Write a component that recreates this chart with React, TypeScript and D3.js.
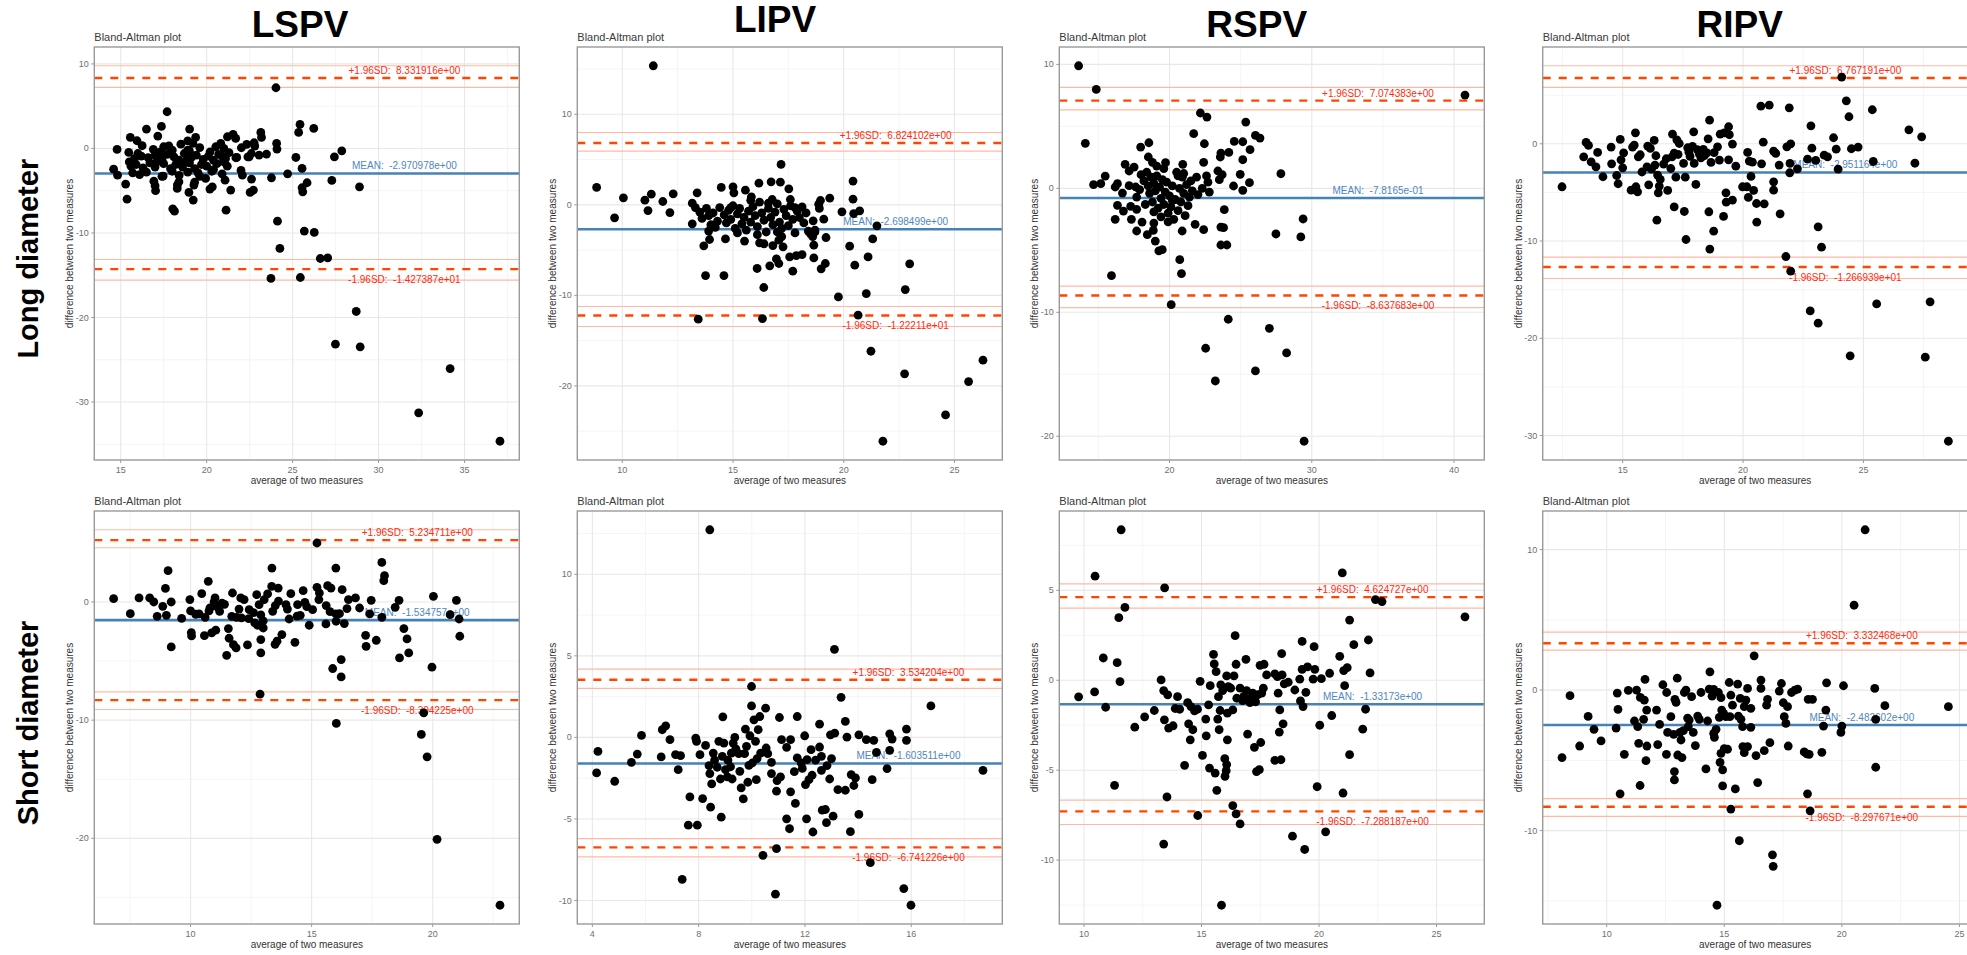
import React from 'react';
import * as d3 from 'd3';

// column / row headers
const columns = ['LSPV', 'LIPV', 'RSPV', 'RIPV'];
const rows = ['Long diameter', 'Short diameter'];

// [average of two measures, difference between two measures]
const lspvLong = [
  [14.59,-2.45],[14.79,-0.12],[14.82,-3.16],[15.29,-4.22],[15.37,-6.0],[15.47,-0.47],[15.56,1.3],[15.95,0.91],[16.25,0.32],[16.5,2.29],
  [16.93,-3.87],[17.03,-5.0],[17.16,1.46],[17.37,2.6],[17.47,-3.27],[17.7,4.34],[18.03,-7.14],[18.13,-7.42],[18.29,-4.73],[18.39,-3.94],
  [19.01,2.29],[18.97,-5.21],[19.22,-6.11],[19.26,-4.34],[19.36,1.3],[19.94,-3.55],[20.19,-4.81],[20.33,-4.54],[20.53,0.2],[20.82,0.59],
  [21.07,-3.75],[21.13,-7.3],[21.21,1.38],[21.4,-4.93],[21.54,1.66],[21.69,1.18],[21.75,-1.07],[22.02,0.08],[22.08,-3.16],[22.33,0.47],
  [22.47,-0.99],[22.53,-5.21],[22.61,-3.63],[22.72,-4.93],[22.76,0.67],[22.8,0.28],[23.05,-0.79],[23.15,1.89],[23.19,1.3],[23.48,-0.67],
  [23.77,-3.47],[24.03,7.18],[24.07,0.59],[24.09,-0.08],[24.12,-8.6],[23.74,-15.38],[24.26,-11.83],[24.71,-3.0],[25.19,-1.07],[25.35,1.89],
  [25.43,2.84],[25.45,-15.27],[25.55,-2.37],[25.55,-4.65],[25.59,-5.13],[25.68,-9.78],[25.84,-4.06],[26.23,2.37],[26.26,-9.94],[26.61,-13.02],
  [27.04,-12.94],[27.28,-3.79],[27.43,-0.99],[27.49,-23.16],[27.86,-0.28],[28.7,-19.29],[28.89,-4.54],[28.93,-23.47],[32.33,-31.28],[34.16,-26.04],
  [37.06,-34.64],
  [16.0,-0.6],[16.2,-0.9],[16.6,-1.1],[17.0,-0.8],[17.4,-1.3],[17.7,-0.7],[18.1,-1.0],[18.4,-1.4],[18.7,-0.6],[19.1,-1.1],
  [19.4,-0.8],[19.8,-1.3],[20.1,-0.9],[20.4,-1.4],[20.7,-0.7],[21.1,-1.2],[21.3,-0.5],[21.7,-1.1],[22.4,-1.0],[22.6,-0.6],
  [15.8,-1.2],[16.9,-0.1],[17.5,0.2],[17.8,0.3],[18.5,0.5],[18.9,0.9],[19.2,0.6],[19.6,0.1],[21.0,0.0],[18.0,-0.2],
  [19.0,-0.3],[20.2,-0.4],[17.3,-0.4],[18.9,-0.2],[20.9,-0.9],[15.6,-2.1],[15.9,-1.9],[16.3,-2.3],[16.7,-1.7],[17.0,-2.2],
  [17.5,-1.8],[17.9,-2.4],[18.2,-1.9],[18.6,-2.2],[19.0,-1.7],[19.3,-2.4],[19.7,-1.9],[20.0,-2.1],[20.4,-2.5],[20.6,-1.8],
  [21.0,-1.6],[21.2,-2.1],[17.1,-1.6],[18.8,-1.5],[15.5,-1.6],[15.7,-2.9],[16.1,-3.1],[16.5,-2.8],[17.4,-3.3],[18.0,-2.7],
  [18.4,-3.2],[18.9,-2.8],[19.5,-2.9],[20.3,-2.7],[20.9,-3.0],[22.0,-2.6],[18.3,-4.3],[19.3,-4.0],[17.0,-4.4],[19.6,-3.3],
];

const lipvLong = [
  [11.4,15.36],[8.84,1.92],[9.65,-1.44],[10.05,0.77],[11.02,0.52],[11.16,-0.63],[11.31,1.18],[11.83,0.37],[12.15,-0.85],[12.3,1.22],
  [13.16,0.18],[13.16,-2.1],[13.38,1.33],[13.43,-12.63],[13.68,-4.53],[13.76,-7.81],[13.94,-3.83],[14.47,1.92],[14.59,-7.81],[14.66,-3.76],
  [15.0,1.99],[15.04,1.33],[15.52,-4.0],[15.56,1.62],[15.83,0.88],[16.09,-7.03],[16.17,2.39],[16.33,-12.56],[16.39,-9.13],[16.66,-6.74],
  [16.72,2.54],[16.77,0.59],[16.96,-5.97],[17.07,-6.48],[17.07,-3.9],[17.14,2.5],[17.17,4.46],[17.26,-4.64],[17.52,1.77],[17.56,-5.75],
  [17.59,0.59],[17.7,-7.33],[17.86,-5.6],[18.12,-5.49],[18.12,-0.22],[18.62,-1.77],[18.65,-4.46],[18.65,-5.86],[18.98,-7.07],[18.87,0.07],
  [18.95,0.48],[19.1,-1.58],[19.17,-6.48],[19.2,-3.61],[19.37,0.74],[19.76,-10.17],[19.92,-0.77],[20.27,-4.57],[20.42,2.62],[20.42,0.63],
  [20.45,-0.96],[20.5,-6.67],[20.72,-0.66],[20.65,-12.19],[21.02,-9.8],[21.1,-5.75],[21.23,-16.17],[21.31,-3.76],[21.5,-2.32],[21.77,-26.11],
  [22.78,-9.36],[22.75,-18.67],[22.98,-6.52],[24.6,-23.2],[25.64,-19.52],[26.29,-17.16],
  [13.3,-0.3],[13.5,-0.8],[13.6,-1.5],[13.8,-0.4],[13.9,-1.2],[14.0,-2.2],[14.1,-0.9],[14.3,-1.8],[14.4,-0.3],[14.6,-1.1],
  [14.7,-2.0],[14.8,-0.6],[14.9,-1.6],[15.0,-0.1],[15.1,-2.6],[15.2,-1.0],[15.3,-0.4],[15.4,-2.1],[15.5,-1.4],[15.6,-2.8],
  [15.7,-0.7],[15.8,-1.9],[15.9,-0.2],[16.0,-1.2],[16.1,-2.4],[16.2,0.3],[16.3,-0.9],[16.4,-1.7],[16.5,-3.0],[16.6,-0.4],
  [16.7,-1.4],[16.8,-2.2],[16.9,-0.8],[17.0,0.1],[17.1,-1.9],[17.2,-2.6],[17.3,-0.5],[17.4,-1.2],[17.5,-2.3],[17.6,-0.1],
  [17.7,-1.6],[17.8,-3.1],[17.9,-0.7],[18.0,-1.4],[18.2,-2.0],[18.3,-0.9],[18.5,-3.2],[18.7,-2.8],[18.9,-0.4],[14.2,-2.5],
  [15.2,-3.1],[16.1,-3.3],[17.2,-3.5],[18.4,-2.9],[13.9,-2.9],[14.9,-0.3],[16.6,0.2],[15.8,0.5],[17.8,-0.3],[18.6,-3.5],
  [16.4,-4.3],[16.8,-4.5],[16.2,-4.2],[17.0,-3.0],[18.7,-3.0],
];

const rspvLong = [
  [13.61,9.89],[14.85,7.98],[14.08,3.63],[14.66,0.3],[15.17,0.38],[15.48,0.99],[15.92,-7.04],[16.18,0.11],[16.34,0.38],[16.34,-1.37],
  [16.18,-2.5],[16.69,-0.38],[16.76,-1.83],[16.88,1.94],[17.16,1.4],[17.16,0.22],[17.27,-1.45],[17.32,-2.5],[17.51,1.72],[17.62,0.11],
  [17.69,-0.7],[17.69,-1.69],[17.69,-3.44],[17.97,3.33],[18.07,-2.72],[18.44,-3.74],[18.51,2.53],[18.55,3.68],[18.86,-3.39],[18.9,-2.8],
  [19.0,-4.25],[19.25,-5.05],[19.49,-4.95],[19.72,2.07],[20.12,-9.38],[20.72,-5.75],[20.84,-6.88],[20.89,-3.44],[20.93,1.94],[21.7,4.41],
  [22.17,6.08],[22.63,5.75],[22.45,3.6],[22.4,2.1],[22.4,-3.33],[22.54,-12.9],[23.22,-15.54],[23.57,2.53],[23.61,2.85],[23.85,-1.72],
  [23.61,-3.12],[23.8,-3.17],[23.61,-4.57],[24.03,-4.57],[24.13,-10.56],[24.17,2.9],[24.55,3.79],[24.5,0.19],[24.97,1.13],[25.15,2.31],
  [25.15,3.76],[25.15,-0.16],[25.36,5.35],[25.62,0.46],[25.66,3.12],[26.04,-14.73],[26.04,4.27],[26.36,4.06],[27.02,-11.29],[27.48,-3.68],
  [27.83,1.18],[28.23,-13.28],[29.23,-3.92],[29.39,-2.47],[29.46,-20.4],[40.77,7.53],
  [18.0,1.1],[18.2,0.6],[18.4,1.3],[18.5,0.2],[18.6,-0.4],[18.7,0.9],[18.8,-1.1],[18.9,0.4],[19.0,-0.2],[19.1,1.0],
  [19.2,-1.6],[19.3,0.1],[19.4,-0.8],[19.5,0.7],[19.6,-1.3],[19.7,-0.3],[19.8,0.5],[19.9,-2.0],[20.0,-0.6],[20.1,-1.5],
  [20.2,0.2],[20.3,-2.5],[20.4,-0.9],[20.5,1.3],[20.6,-1.8],[20.7,0.0],[20.8,-1.1],[20.9,0.9],[21.0,-0.4],[21.1,-2.2],
  [21.2,0.3],[21.3,-1.4],[21.4,-0.7],[21.5,0.6],[21.6,-0.2],[21.8,-2.9],[21.9,0.9],[22.0,-0.5],[22.3,0.0],[22.6,1.0],
  [22.7,0.5],[22.8,-0.3],[23.4,1.4],[23.7,1.1],[23.5,0.7],[19.4,-2.3],[19.9,-2.7],[20.2,-1.0],[18.9,-1.9],[18.3,-1.3],
  [17.9,-0.1],[20.6,1.0],[21.0,1.2],[19.6,1.6],[18.8,2.1],[19.1,1.8],
];

const ripvLong = [
  [12.48,-4.42],[13.38,-1.34],[13.48,0.14],[13.58,-0.17],[13.69,-1.85],[13.89,-2.37],[13.96,-0.89],[14.18,-3.39],[14.52,-0.34],[14.54,-2.06],
  [14.75,-3.26],[14.81,-4.11],[14.9,0.45],[14.93,-1.65],[15.0,-2.47],[15.04,-0.93],[15.35,-4.77],[15.41,-0.34],[15.48,-0.14],[15.53,1.13],
  [15.55,-4.42],[15.62,-4.94],[15.65,-1.34],[15.73,-1.13],[16.01,-2.37],[16.04,-0.24],[16.08,-4.22],[16.15,-0.48],[16.31,0.34],[16.34,-2.19],
  [16.38,-1.23],[16.42,-7.85],[16.45,-3.22],[16.48,-5.04],[16.52,-4.35],[16.56,-3.67],[16.81,-1.54],[16.87,-4.8],[17.0,-2.54],[17.05,-1.34],
  [17.07,0.99],[17.14,-6.48],[17.14,-0.96],[17.21,-3.43],[17.25,0.41],[17.35,0.03],[17.53,-2.02],[17.56,-6.96],[17.6,-3.43],[17.63,-9.84],
  [17.7,-0.41],[17.75,-0.86],[17.9,-0.27],[17.95,1.23],[17.97,-2.02],[18.04,-4.18],[18.18,-1.03],[18.25,-1.44],[18.35,-0.58],[18.39,-1.23],
  [18.5,-0.93],[18.55,0.51],[18.58,-6.99],[18.61,2.43],[18.62,-10.83],[18.67,-1.92],[18.78,-8.98],[18.94,-0.31],[19.02,-1.68],[19.05,0.99],
  [19.19,-7.47],[19.22,1.13],[19.29,-5.04],[19.3,-6.0],[19.4,-1.65],[19.4,1.75],[19.43,0.93],[19.56,-0.03],[19.56,-5.79],[19.98,-4.42],
  [20.16,-4.42],[20.19,-0.89],[20.22,-5.52],[20.26,-1.78],[20.33,-3.36],[20.39,-1.89],[20.44,-4.8],[20.56,-6.14],[20.57,-8.06],[20.74,3.87],
  [20.77,-2.06],[20.84,0.17],[20.88,-6.17],[21.09,3.98],[21.27,-0.75],[21.27,-4.77],[21.27,-3.91],[21.36,-0.99],[21.5,-2.19],[21.54,-7.2],
  [21.78,-11.59],[21.82,-0.31],[21.92,3.7],[21.94,-2.98],[21.95,-2.02],[21.98,0.0],[21.98,-13.1],[22.26,-2.57],[22.68,-1.58],[22.79,-17.18],
  [22.82,1.85],[22.86,-0.45],[23.02,-1.71],[23.12,-8.54],[23.12,-18.44],[23.26,-10.63],[23.37,-1.17],[23.51,-1.34],[23.76,0.62],[23.87,-0.55],
  [23.95,-2.61],[24.1,6.86],[24.29,4.42],[24.4,2.78],[24.45,-21.8],[24.5,-0.51],[24.78,-0.34],[25.37,3.5],[25.41,-1.82],[25.55,-16.46],
  [26.89,1.44],[27.14,-2.0],[27.42,0.72],[27.57,-21.94],[27.77,-16.25],[28.53,-30.58],
  [16.2,-2.6],[17.3,-1.1],[18.1,-0.6],[18.8,-0.9],[16.7,-2.1],[15.8,-2.9],[17.8,-1.3],[19.7,-2.3],
];

const lspvShort = [
  [6.82,0.28],[7.51,-0.99],[7.87,0.34],[8.31,0.34],[8.48,0.0],[8.62,-1.21],[8.85,-0.37],[8.96,1.15],[9.0,-1.13],[9.07,2.65],
  [9.2,0.0],[9.2,-3.8],[9.63,-1.38],[9.97,0.2],[10.0,-0.76],[10.03,-2.59],[10.04,-2.87],[10.21,-1.04],[10.35,-1.01],[10.46,0.7],
  [10.57,-2.85],[10.73,1.75],[10.76,-0.76],[10.87,-2.62],[10.97,0.0],[11.01,0.34],[11.04,-2.39],[11.1,-0.42],[11.56,-2.25],[11.49,-4.51],
  [11.59,-3.07],[11.7,-1.21],[11.73,0.76],[11.77,-3.61],[11.88,-3.89],[12.07,0.34],[12.1,-1.35],[12.21,0.2],[12.35,-3.63],[12.42,-0.65],
  [12.65,-1.77],[12.73,0.62],[12.76,-1.97],[12.83,-0.23],[12.9,-3.18],[12.9,-4.31],[12.87,-7.8],[13.0,-2.2],[13.04,0.2],[13.18,0.68],
  [13.36,2.87],[13.35,1.32],[13.39,-0.79],[13.49,-3.58],[13.57,-3.32],[13.62,1.18],[13.63,0.08],[13.77,-2.76],[13.94,-0.23],[14.14,0.7],
  [14.07,-1.44],[14.31,-3.41],[14.42,-0.23],[14.65,0.96],[14.53,-1.13],[14.72,-0.03],[14.9,-1.97],[15.04,-0.65],[15.22,4.99],[15.22,1.24],
  [15.32,0.76],[15.59,-1.86],[15.66,1.38],[15.8,1.18],[15.76,-0.82],[15.87,-5.63],[16.0,2.87],[16.02,-10.28],[16.01,-1.63],[16.15,-0.99],
  [16.22,-4.87],[16.22,-6.34],[16.26,1.04],[16.35,-1.83],[16.46,-0.56],[16.52,0.2],[16.81,0.34],[16.98,-0.51],[17.23,-2.82],[17.25,-3.75],
  [17.46,0.14],[17.67,-3.24],[17.9,3.35],[18.01,2.23],[17.98,1.8],[18.45,-0.45],[18.61,0.14],[18.63,-4.73],[18.81,-2.25],[18.94,-3.13],
  [19.01,-4.31],[19.53,-11.21],[19.63,-9.38],[19.77,-13.1],[19.97,-5.52],[20.03,0.48],[20.18,-20.08],[20.72,-1.07],[20.98,0.14],[21.09,-1.44],
  [21.12,-2.9],[22.78,-25.66],
  [10.8,-0.5],[11.2,-0.8],[11.4,-0.2],[12.6,-0.9],[13.5,-0.3],[14.4,-1.2],[15.6,-0.3],[16.0,-1.0],[17.4,-1.0],[17.9,-1.3],
  [15.3,0.2],[12.4,-1.4],[13.0,-1.6],[11.9,-1.3],[11.3,-0.1],[12.0,-0.6],[14.0,-0.6],[14.8,-0.4],[10.6,-1.3],[12.9,-1.1],
];

const lipvShort = [
  [8.42,12.73],[13.11,5.4],[4.16,-2.18],[4.21,-0.86],[4.84,-2.69],[5.47,-1.53],[5.69,-1.02],[5.85,0.12],[6.59,-1.2],[6.63,0.47],
  [6.76,0.71],[6.92,-0.14],[7.13,-1.06],[7.23,-1.98],[7.32,-1.12],[7.38,-8.7],[7.67,-3.65],[7.61,-5.38],[7.89,-0.04],[7.95,-5.38],
  [7.92,-0.24],[8.05,-1.06],[8.15,-3.75],[8.26,-0.49],[8.39,-1.73],[8.42,-2.22],[8.45,-4.28],[8.49,-2.85],[8.55,-0.96],[8.7,-1.83],
  [8.76,-0.24],[8.82,-2.55],[8.85,-4.89],[8.91,1.26],[8.89,-1.16],[8.95,-0.35],[9.01,-1.98],[9.08,-2.42],[9.23,-0.96],[9.26,-2.55],
  [9.3,-0.35],[9.36,0.0],[9.51,-1.0],[9.55,-2.08],[9.6,-3.1],[9.68,-3.77],[9.73,-1.0],[9.76,0.51],[9.8,-0.55],[9.85,-2.75],
  [9.89,-1.71],[9.93,0.1],[9.99,3.12],[9.99,1.93],[10.02,-1.57],[10.08,1.08],[10.14,-0.24],[10.17,-2.59],[10.24,0.47],[10.3,1.28],
  [10.33,-0.96],[10.42,-7.23],[10.52,1.79],[10.54,-0.65],[10.74,-1.53],[10.74,-2.22],[10.93,-6.82],[10.89,-9.61],[10.93,-3.3],[10.95,-2.65],
  [11.04,1.22],[11.08,-2.42],[11.12,-0.14],[11.31,-0.61],[11.31,-4.99],[11.42,-5.6],[11.46,-0.14],[11.46,-3.34],[11.64,-4.05],[11.71,1.28],
  [11.71,-1.26],[11.86,-1.57],[11.99,0.1],[12.02,-2.89],[12.06,-4.99],[12.08,-1.36],[12.15,-2.59],[12.23,-0.75],[12.27,-2.32],[12.3,-5.8],
  [12.55,0.81],[12.55,-0.59],[12.62,-1.16],[12.65,-4.46],[12.62,-2.02],[12.77,-4.42],[12.81,-5.23],[12.83,-1.73],[12.93,-2.55],[12.96,0.16],
  [13.06,-4.83],[13.12,0.26],[13.24,-3.2],[13.36,2.46],[13.52,0.98],[13.52,-3.24],[13.58,0.02],[13.71,-5.78],[13.74,-2.28],[13.84,-2.95],
  [13.9,-2.48],[14.03,0.16],[14.03,-4.72],[14.31,-0.14],[14.46,-7.68],[14.53,-2.59],[14.59,-0.18],[14.69,-0.92],[15.09,-1.91],[15.19,-0.79],
  [15.19,0.22],[15.28,-0.1],[15.72,-9.27],[15.82,0.51],[15.82,-0.18],[15.99,-10.29],[16.74,1.93],[18.7,-2.02],
  [9.1,-1.4],[9.4,-0.7],[8.6,-1.4],[10.6,-1.0],[11.9,-1.9],[12.4,-1.4],[13.0,-1.3],[9.2,-1.8],[10.2,-1.3],[11.6,-2.1],
];

const rspvShort = [
  [11.58,8.37],[10.47,5.79],[13.43,5.14],[11.74,4.05],[11.48,3.48],[10.82,1.24],[11.41,0.98],[11.53,-0.07],[9.77,-0.92],[10.45,-0.65],
  [10.92,-1.5],[11.3,-5.84],[12.16,-2.61],[12.58,-2.03],[12.99,-1.68],[13.28,0.02],[13.39,-0.57],[13.42,-2.2],[13.53,-6.49],[13.39,-9.11],
  [13.56,-0.81],[13.6,-2.66],[13.79,-2.53],[13.98,-0.91],[13.88,-1.57],[14.07,-1.61],[14.28,-4.73],[14.41,-1.24],[14.45,-2.42],[14.52,-3.31],
  [14.55,-1.46],[14.63,-2.75],[14.7,-1.7],[14.83,-1.61],[14.84,-7.52],[14.94,-0.06],[15.04,-4.18],[15.18,-2.16],[15.2,-3.09],[15.3,-1.37],
  [15.37,-0.3],[15.34,-4.88],[15.51,1.44],[15.54,0.91],[15.58,-5.16],[15.62,0.48],[15.65,-6.12],[15.69,-2.16],[15.72,-0.91],[15.75,-2.75],
  [15.79,-1.68],[15.82,-0.26],[15.85,-12.51],[15.9,-0.57],[15.99,-4.36],[16.05,-5.03],[16.07,-4.69],[16.0,-5.34],[16.07,0.24],[16.1,-1.83],
  [16.14,-0.35],[16.1,-3.31],[16.24,-0.44],[16.33,-1.65],[16.33,-6.97],[16.38,0.24],[16.43,2.48],[16.47,0.89],[16.47,-7.43],[16.64,-7.99],
  [16.64,-0.44],[16.75,-1.13],[16.89,1.16],[16.92,-0.57],[16.96,-2.99],[17.06,-1.24],[17.18,-0.72],[17.25,-3.73],[17.34,-5.08],[17.46,-4.97],
  [17.49,0.83],[17.52,-3.46],[17.56,-0.72],[17.66,0.89],[17.63,-0.44],[17.77,0.3],[18.12,-4.45],[18.12,0.35],[18.23,0.2],[18.26,-0.72],
  [18.31,-2.88],[18.33,-1.65],[18.38,-4.42],[18.41,1.48],[18.43,0.3],[18.47,-2.42],[18.52,-0.2],[18.69,-0.11],[18.87,-8.67],[18.97,-0.54],
  [19.18,0.06],[19.21,-1.15],[19.28,0.61],[19.28,2.16],[19.32,-1.46],[19.39,-9.41],[19.44,-0.67],[19.51,0.74],[19.79,1.87],[19.82,0.61],
  [19.75,0.06],[19.92,-5.92],[20.03,-2.5],[20.1,0.09],[20.28,-8.43],[20.45,0.39],[20.54,-1.96],[20.88,1.33],[20.99,5.97],[21.05,0.54],
  [21.09,-0.3],[21.02,-6.27],[21.2,0.7],[21.3,3.35],[21.3,-4.14],[21.48,1.98],[21.86,-2.72],[21.98,-1.61],[22.1,2.24],[22.17,0.41],
  [22.4,4.49],[22.68,4.38],[26.21,3.53],
  [16.8,-0.9],[17.1,-1.0],[17.4,-0.8],[16.5,-1.0],[17.3,-1.2],
];

const ripvShort = [
  [8.1,-4.8],[8.44,-0.4],[8.85,-3.98],[9.21,-1.87],[9.46,-2.79],[9.76,-3.62],[10.4,-2.7],[10.45,-0.21],[10.48,-1.37],[10.57,-7.38],
  [10.75,-4.57],[10.92,-0.02],[11.18,-2.2],[11.27,0.0],[11.32,-2.6],[11.36,-3.79],[11.42,-6.79],[11.43,-0.52],[11.57,-2.08],[11.6,-0.71],
  [11.63,0.76],[11.67,-5.02],[11.7,-1.42],[11.71,-3.98],[12.12,-1.42],[12.17,-3.88],[12.25,-2.44],[12.39,0.38],[12.54,-4.57],[12.55,-0.17],
  [12.59,-3.01],[12.73,-1.89],[12.85,-3.15],[12.88,-5.8],[12.88,-6.39],[12.9,-0.66],[12.95,-0.88],[13.0,0.85],[13.02,-4.62],[13.12,-3.01],
  [13.16,-3.55],[13.2,-4.8],[13.26,-2.89],[13.3,-0.17],[13.37,0.0],[13.44,-1.99],[13.47,-2.6],[13.51,-2.13],[13.61,-0.47],[13.68,-3.01],
  [13.77,-3.95],[13.87,-1.85],[13.94,-2.08],[14.01,-0.17],[14.22,-5.61],[14.29,-2.2],[14.39,1.3],[14.36,0.07],[14.48,-0.43],[14.55,0.05],
  [14.55,-3.08],[14.58,-3.36],[14.65,-2.79],[14.69,-15.31],[14.75,-0.17],[14.79,-1.94],[14.82,-5.14],[14.86,-0.54],[14.86,-4.5],[14.89,-1.42],
  [14.93,-6.82],[14.93,-5.68],[14.97,-1.66],[15.0,-4.17],[15.07,-1.89],[15.14,-4.21],[15.21,0.54],[15.24,-1.89],[15.28,-0.36],[15.28,-8.47],
  [15.35,-1.07],[15.47,-7.03],[15.57,0.43],[15.6,-1.85],[15.64,-10.72],[15.68,-0.59],[15.71,-2.08],[15.78,-2.6],[15.79,-4.02],[15.85,-4.45],
  [15.85,-1.18],[15.92,-0.71],[15.99,0.12],[15.99,-4.02],[16.13,-2.65],[16.13,-1.3],[16.27,2.44],[16.35,-4.66],[16.42,-6.58],[16.56,0.71],
  [16.56,0.12],[16.7,-4.31],[16.8,-1.07],[16.84,-0.66],[16.94,-3.74],[17.05,-11.72],[17.08,-12.54],[17.34,-0.07],[17.43,0.47],[17.51,-0.9],
  [17.55,-1.89],[17.62,-2.37],[17.69,-1.18],[17.72,-3.98],[17.86,-0.17],[18.0,0.0],[18.12,0.07],[18.4,-4.4],[18.51,-4.54],[18.54,-7.38],
  [18.57,-0.66],[18.61,-4.57],[18.65,-8.59],[18.75,-0.66],[19.15,-4.43],[19.22,-2.56],[19.32,-1.42],[19.35,0.52],[19.96,-3.01],[20.0,-2.56],
  [20.07,0.31],[20.52,6.04],[20.99,11.41],[21.4,0.12],[21.44,-2.08],[21.44,-5.49],[21.83,-1.11],[24.53,-1.18],
];

// agreement statistics: mean bias, limits of agreement and their confidence bands
const meanBias = [-2.970978, -2.698499, -0.78165, -2.951164, -1.534757, -1.603511, -1.33173, -2.482602];
const upperLoA = [8.331916, 6.824102, 7.074383, 6.767191, 5.234711, 3.534204, 4.624727, 3.332468];
const lowerLoA = [-14.27387, -12.2211, -8.637683, -12.66939, -8.304225, -6.741226, -7.288187, -8.297671];
const upperCI = [[7.22, 9.78], [5.93, 7.99], [6.34, 8.15], [5.79, 8.02], [4.59, 6.11], [3.01, 4.18], [4.01, 5.36], [2.84, 4.12]];
const lowerCI = [[-15.59, -13.14], [-13.44, -11.23], [-9.62, -7.88], [-13.85, -11.66], [-9.10, -7.61], [-7.33, -6.21], [-8.02, -6.67], [-8.99, -7.72]];

// tick labels
const xTicks = [
  [15, 20, 25, 30, 35], [10, 15, 20, 25], [20, 30, 40], [15, 20, 25],
  [10, 15, 20], [4, 8, 12, 16], [10, 15, 20, 25], [10, 15, 20, 25],
];
const yTicks = [
  [-30, -20, -10, 0, 10], [-20, -10, 0, 10], [-20, -10, 0, 10], [-30, -20, -10, 0, 10],
  [-20, -10, 0], [-10, -5, 0, 5, 10], [-10, -5, 0, 5], [-10, 0, 10],
];

const pointSets = [lspvLong, lipvLong, rspvLong, ripvLong, lspvShort, lipvShort, rspvShort, ripvShort];

const FONT = 'Liberation Sans, Arial, Helvetica, sans-serif';
const W = 1967;
const H = 955;
const colLeft = [94.3, 577.3, 1059.3, 1542.7];
const rowTop = [47, 511];
const boxW = 425;
const boxH = 413;

// R-style scientific format, e.g. -7.8165e-01
function sci(v: number) {
  const [m0, e0] = v.toExponential(6).split('e');
  let m = m0;
  if (m.includes('.')) m = m.replace(/0+$/, '').replace(/\.$/, '');
  const sign = e0[0];
  let d = e0.slice(1);
  if (d.length < 2) d = '0' + d;
  return `${m}e${sign}${d}`;
}

function minorTicks(ticks: number[], lo: number, hi: number) {
  const step = ticks[1] - ticks[0];
  const out: number[] = [];
  for (let v = ticks[0] - step * 10 - step / 2; v <= hi; v += step) {
    if (v >= lo) out.push(v);
  }
  return out;
}

function majorGrid(ticks: number[], lo: number, hi: number) {
  const step = ticks[1] - ticks[0];
  const out: number[] = [];
  for (let v = ticks[0] - step * 10; v <= hi; v += step) {
    if (v >= lo) out.push(v);
  }
  return out;
}

function Panel({ i }: { i: number }) {
  const pts = pointSets[i];
  const left = colLeft[i % 4];
  const top = rowTop[Math.floor(i / 4)];

  const [xmin, xmax] = d3.extent(pts, (d) => d[0]) as [number, number];
  const yVals = pts.map((d) => d[1]).concat([upperCI[i][1], lowerCI[i][0]]);
  const [ymin, ymax] = d3.extent(yVals) as [number, number];
  const xp = (xmax - xmin) * 0.05;
  const yp = (ymax - ymin) * 0.05;

  const x = d3.scaleLinear().domain([xmin - xp, xmax + xp]).range([0, boxW]);
  const y = d3.scaleLinear().domain([ymin - yp, ymax + yp]).range([boxH, 0]);
  const [xlo, xhi] = x.domain();
  const [ylo, yhi] = y.domain();

  const xt = xTicks[i].filter((t) => t >= xlo && t <= xhi);
  const yt = yTicks[i].filter((t) => t >= ylo && t <= yhi);
  const labelX = x(0.85 * xmax);

  const hline = (v: number, stroke: string, sw: number, dash?: string, key?: string) => (
    <line key={key} x1={0} x2={boxW} y1={y(v)} y2={y(v)} stroke={stroke} strokeWidth={sw} strokeDasharray={dash} />
  );

  return (
    <g transform={`translate(${left},${top})`} fontFamily={FONT}>
      <text x={0} y={-6.5} fontSize={11} fill="#3a3a3a">Bland-Altman plot</text>
      <rect x={0} y={0} width={boxW} height={boxH} fill="#fff" />
      {minorTicks(xTicks[i], xlo, xhi).map((v) => (
        <line key={'xm' + v} x1={x(v)} x2={x(v)} y1={0} y2={boxH} stroke="#f2f2f2" strokeWidth={0.8} />
      ))}
      {minorTicks(yTicks[i], ylo, yhi).map((v) => (
        <line key={'ym' + v} x1={0} x2={boxW} y1={y(v)} y2={y(v)} stroke="#f2f2f2" strokeWidth={0.8} />
      ))}
      {majorGrid(xTicks[i], xlo, xhi).map((v) => (
        <line key={'xg' + v} x1={x(v)} x2={x(v)} y1={0} y2={boxH} stroke="#e8e8e8" strokeWidth={1.1} />
      ))}
      {majorGrid(yTicks[i], ylo, yhi).map((v) => (
        <line key={'yg' + v} x1={0} x2={boxW} y1={y(v)} y2={y(v)} stroke="#e8e8e8" strokeWidth={1.1} />
      ))}

      {hline(upperCI[i][0], '#ffb8a3', 1.2, undefined, 'uc0')}
      {hline(upperCI[i][1], '#ffb8a3', 1.2, undefined, 'uc1')}
      {hline(lowerCI[i][0], '#ffb8a3', 1.2, undefined, 'lc0')}
      {hline(lowerCI[i][1], '#ffb8a3', 1.2, undefined, 'lc1')}
      {hline(upperLoA[i], '#ff4500', 2.4, '8,8', 'up')}
      {hline(lowerLoA[i], '#ff4500', 2.4, '8,8', 'lo')}
      {hline(meanBias[i], '#4682b4', 2.6, undefined, 'mean')}

      <g fontSize={10} textAnchor="middle">
        <text x={labelX} y={y(upperLoA[i]) - 3.8} fill="#ff2a10" xmlSpace="preserve">{`+1.96SD:  ${sci(upperLoA[i])}`}</text>
        <text x={labelX} y={y(meanBias[i]) - 4.4} fill="#4f86c0" xmlSpace="preserve">{`MEAN:  ${sci(meanBias[i])}`}</text>
        <text x={labelX} y={y(lowerLoA[i]) + 13.9} fill="#ff2a10" xmlSpace="preserve">{`-1.96SD:  ${sci(lowerLoA[i])}`}</text>
      </g>

      {pts.map((d, k) => (
        <circle key={k} cx={x(d[0])} cy={y(d[1])} r={4.4} fill="#000" />
      ))}

      <rect x={0} y={0} width={boxW} height={boxH} fill="none" stroke="#9a9a9a" strokeWidth={1.4} />

      {xt.map((v) => (
        <g key={'xt' + v} transform={`translate(${x(v)},${boxH})`}>
          <line y1={0} y2={3} stroke="#9a9a9a" />
          <text y={12.5} fontSize={9} fill="#6f6f6f" textAnchor="middle">{v}</text>
        </g>
      ))}
      {yt.map((v) => (
        <g key={'yt' + v} transform={`translate(0,${y(v)})`}>
          <line x1={-3} x2={0} stroke="#9a9a9a" />
          <text x={-5.5} dy="0.34em" fontSize={9} fill="#6f6f6f" textAnchor="end">{v}</text>
        </g>
      ))}

      <text x={boxW / 2} y={boxH + 24.3} fontSize={10} fill="#333" textAnchor="middle">average of two measures</text>
      <text transform={`translate(${-21},${boxH / 2}) rotate(-90)`} fontSize={10} fill="#333" textAnchor="middle">
        difference between two measures
      </text>
    </g>
  );
}

const colTitleX = [300, 775, 1256.7, 1739.7];
const colTitleY = [37, 32, 37, 37];
const rowTitleY = [258.7, 723];

export default function App() {
  return (
    <div style={{ position: 'absolute', left: 0, top: 0, background: '#fff' }}>
      <svg width={W} height={H} style={{ display: 'block' }}>
        <rect width={W} height={H} fill="#fff" />
        {pointSets.map((_, i) => (
          <Panel key={i} i={i} />
        ))}
        {columns.map((c, i) => (
          <text key={c} x={colTitleX[i]} y={colTitleY[i]} fontFamily={FONT} fontWeight="bold" fontSize={37} textAnchor="middle" fill="#000">
            {c}
          </text>
        ))}
        {rows.map((r, i) => (
          <text key={r} transform={`translate(38,${rowTitleY[i]}) rotate(-90)`} fontFamily={FONT} fontWeight="bold" fontSize={29} textAnchor="middle" fill="#000">
            {r}
          </text>
        ))}
      </svg>
    </div>
  );
}
